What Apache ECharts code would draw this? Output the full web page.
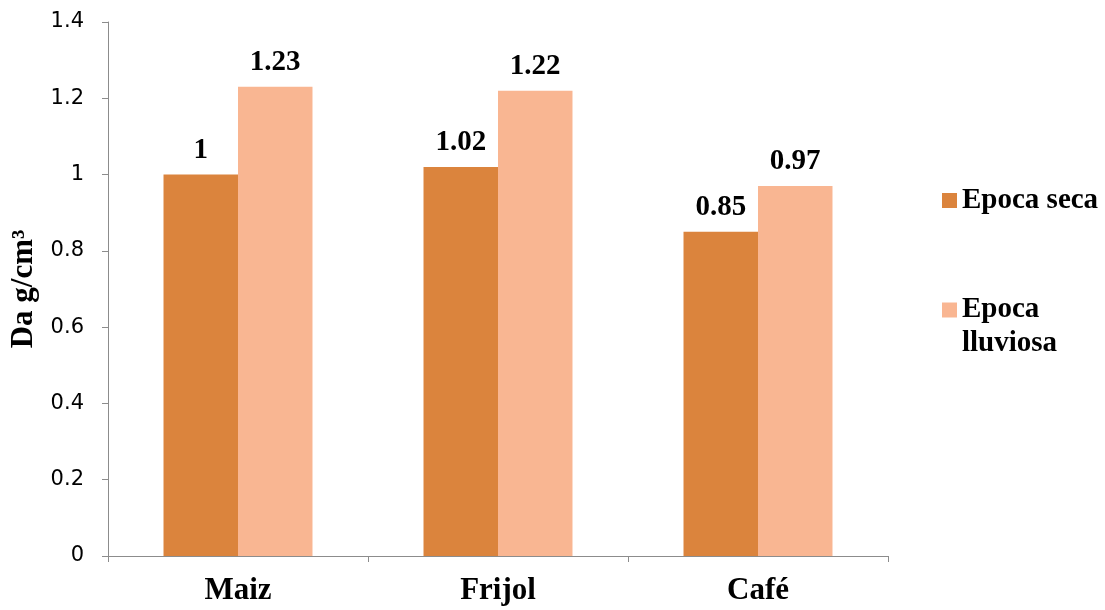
<!DOCTYPE html>
<html>
<head>
<meta charset="utf-8">
<script src="https://cdn.jsdelivr.net/npm/echarts@6/dist/echarts.min.js"></script>
<style>
  html, body { margin: 0; padding: 0; background: #ffffff; }
  #chart { width: 1105px; height: 610px; }
</style>
</head>
<body>
<div id="chart"></div>
<script>
// Bulk density (Da) by crop and season
const categories = ['Maiz', 'Frijol', 'Café'];
const seriesNames = ['Epoca seca', 'Epoca lluviosa'];
const epocaSeca = [1, 1.02, 0.85];
const epocaLluviosa = [1.23, 1.22, 0.97];
const yTicks = { min: 0, max: 1.4, interval: 0.2 };

const colors = ['#DB843D', '#F9B692'];
const serif = '"Liberation Serif", "Times New Roman", serif';

const chart = echarts.init(document.getElementById('chart'), null, { renderer: 'canvas' });

const labelStyle = {
  show: true,
  position: 'top',
  distance: 10,
  fontFamily: serif,
  fontWeight: 'bold',
  fontSize: 29,
  color: '#000000',
  formatter: p => String(p.value)
};

const legendText = { fontFamily: serif, fontWeight: 'bold', fontSize: 29, lineHeight: 34, color: '#000' };

chart.setOption({
  animation: false,
  backgroundColor: '#ffffff',
  grid: { left: 108, right: 217, top: 22, bottom: 54, containLabel: false, outerBoundsMode: 'none' },
  legend: [
    {
      data: [seriesNames[0]],
      orient: 'vertical',
      left: 942,
      top: 183.5,
      padding: 0,
      itemWidth: 15,
      itemHeight: 15,
      icon: 'rect',
      textStyle: legendText
    },
    {
      data: [seriesNames[1]],
      orient: 'vertical',
      left: 942,
      top: 259,
      padding: 0,
      itemWidth: 15,
      itemHeight: 15,
      icon: 'rect',
      // two-line name; the leading blank line keeps the marker level with the first word
      formatter: name => '\n' + name.replace(' ', '\n'),
      textStyle: legendText
    }
  ],
  xAxis: {
    type: 'category',
    data: categories,
    axisLine: { show: true, lineStyle: { color: '#8c8c8c', width: 1 } },
    axisTick: { show: true, alignWithLabel: false, length: 6, lineStyle: { color: '#8c8c8c' } },
    axisLabel: {
      margin: 19,
      fontFamily: serif,
      fontWeight: 'bold',
      fontSize: 31,
      color: '#000'
    }
  },
  yAxis: {
    type: 'value',
    min: yTicks.min,
    max: yTicks.max,
    interval: yTicks.interval,
    name: 'Da g/cm³',
    nameLocation: 'middle',
    nameGap: 67,
    nameTextStyle: { fontFamily: serif, fontWeight: 'bold', fontSize: 31, color: '#000' },
    axisLine: { show: true, lineStyle: { color: '#8c8c8c', width: 1 } },
    axisTick: { show: true, length: 6, lineStyle: { color: '#8c8c8c' } },
    splitLine: { show: false },
    axisLabel: {
      margin: 24,
      fontFamily: '"DejaVu Sans", sans-serif',
      fontSize: 21,
      color: '#000',
      formatter: v => String(+v.toFixed(1))
    }
  },
  series: [
    {
      name: seriesNames[0],
      type: 'bar',
      data: epocaSeca,
      itemStyle: { color: colors[0] },
      barGap: '0%',
      barCategoryGap: '42.7%',
      label: labelStyle
    },
    {
      name: seriesNames[1],
      type: 'bar',
      data: epocaLluviosa,
      itemStyle: { color: colors[1] },
      barGap: '0%',
      barCategoryGap: '42.7%',
      label: labelStyle
    }
  ]
});
</script>
</body>
</html>
